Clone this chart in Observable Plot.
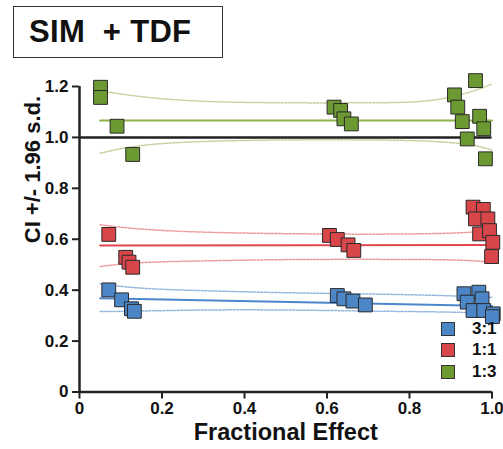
<!DOCTYPE html>
<html>
<head>
<meta charset="utf-8">
<script src="https://cdn.jsdelivr.net/npm/d3@7"></script>
<script src="https://cdn.jsdelivr.net/npm/@observablehq/plot@0.6"></script>
<style>
  html, body { margin: 0; padding: 0; background: #fff; }
  #wrap { position: relative; width: 503px; height: 449px; overflow: hidden; font-family: "Liberation Sans", Arial, sans-serif; }
  #title { position: absolute; left: 13px; top: 6px; width: 193px; height: 50px; border: 1.6px solid #333;
           font-size: 31px; font-weight: bold; line-height: 50px; padding-left: 15px; box-sizing: content-box; white-space: pre; color: #111; letter-spacing: 0.3px; }
  #legend { position: absolute; left: 441px; top: 318px; font-weight: bold; font-size: 17px; color: #111; }
  .lg { display: flex; align-items: center; height: 21.5px; white-space: nowrap; }
  .sw { width: 12px; height: 12px; border: 1px solid #333; margin-right: 17px; }
</style>
</head>
<body>
<div id="wrap">
  <div id="chart"></div>
  <div id="title">SIM  + TDF</div>
  <div id="legend"></div>
</div>
<script>
// ---- data ----
const seriesNames = ["3:1", "1:1", "1:3"];
const seriesColors = ["#4d86c6", "#d9464a", "#6d9932"];
const lineColors = ["#4a87cf", "#e4474d", "#8db24a"];
const bandColors = ["#94b7e0", "#ee9a9c", "#c3d19c"];

const xTicks = [0, 0.2, 0.4, 0.6, 0.8, 1.0];
const yTicks = [0, 0.2, 0.4, 0.6, 0.8, 1.0, 1.2];

// 3:1 (blue)
const blueX = [0.071, 0.102, 0.126, 0.133, 0.625, 0.641, 0.663, 0.693, 0.932, 0.968, 0.940, 0.976, 0.954, 0.980, 1.003, 1.001];
const blueY = [0.401, 0.362, 0.327, 0.317, 0.379, 0.366, 0.357, 0.342, 0.386, 0.392, 0.353, 0.366, 0.320, 0.320, 0.307, 0.296];
// 1:1 (red)
const redX = [0.071, 0.112, 0.120, 0.129, 0.606, 0.625, 0.651, 0.665, 0.954, 0.979, 0.960, 0.990, 0.970, 0.994, 1.002, 0.999];
const redY = [0.619, 0.529, 0.510, 0.490, 0.615, 0.599, 0.578, 0.556, 0.726, 0.717, 0.680, 0.680, 0.621, 0.634, 0.588, 0.532];
// 1:3 (green)
const greenX = [0.051, 0.051, 0.091, 0.129, 0.617, 0.633, 0.641, 0.659, 0.960, 0.909, 0.917, 0.928, 0.970, 0.980, 0.940, 0.984];
const greenY = [1.197, 1.157, 1.044, 0.933, 1.119, 1.106, 1.073, 1.053, 1.223, 1.167, 1.119, 1.062, 1.083, 1.034, 0.994, 0.916];

// fitted lines (ends)
const fitX = [0.05, 1.0];
const blueFit = [0.368, 0.338];
const redFit = [0.575, 0.577];
const greenFit = [1.066, 1.066];

// confidence bands
const bandX = [0.05, 0.15, 0.3, 0.5, 0.7, 0.85, 0.95, 1.0];
const blueUpper = [0.425, 0.408, 0.398, 0.390, 0.385, 0.380, 0.375, 0.372];
const blueLower = [0.316, 0.318, 0.322, 0.322, 0.318, 0.315, 0.312, 0.310];
const redUpper = [0.657, 0.640, 0.628, 0.622, 0.620, 0.622, 0.628, 0.640];
const redLower = [0.493, 0.508, 0.515, 0.520, 0.521, 0.520, 0.516, 0.508];
const greenUpper = [1.184, 1.160, 1.142, 1.136, 1.136, 1.145, 1.180, 1.210];
const greenLower = [0.938, 0.968, 0.984, 0.990, 0.990, 0.985, 0.970, 0.950];

const refValue = [1.0];

// ---- build tables ----
const pts = (xs, ys) => xs.map((x, i) => ({x, y: ys[i]}));
const points = [pts(blueX, blueY), pts(redX, redY), pts(greenX, greenY)];
const fits = [pts(fitX, blueFit), pts(fitX, redFit), pts(fitX, greenFit)];
const uppers = [pts(bandX, blueUpper), pts(bandX, redUpper), pts(bandX, greenUpper)];
const lowers = [pts(bandX, blueLower), pts(bandX, redLower), pts(bandX, greenLower)];

const fmt = d => d === 0 ? "0" : d.toFixed(1);
const font = "'Liberation Sans', Arial, sans-serif";

const marks = [];
for (let i = 0; i < 3; i++) {
  marks.push(Plot.line(uppers[i], {x: "x", y: "y", curve: "natural", stroke: bandColors[i], strokeWidth: 1.5, strokeDasharray: "2,1.5"}));
  marks.push(Plot.line(lowers[i], {x: "x", y: "y", curve: "natural", stroke: bandColors[i], strokeWidth: 1.5, strokeDasharray: "2,1.5"}));
  marks.push(Plot.line(fits[i], {x: "x", y: "y", stroke: lineColors[i], strokeWidth: 2}));
}
marks.push(Plot.ruleY(refValue, {stroke: "#222", strokeWidth: 2.5}));
for (let i = 0; i < 3; i++) {
  marks.push(Plot.dot(points[i], {x: "x", y: "y", symbol: "square", r: 7.8, fill: seriesColors[i], stroke: "#2a2a2a", strokeWidth: 1}));
}

const chart = Plot.plot({
  width: 503,
  height: 449,
  marginLeft: 79,
  marginRight: 11.5,
  marginTop: 86,
  marginBottom: 57.5,
  style: {fontFamily: font, background: "transparent", overflow: "visible"},
  x: {domain: [0, 1]},
  y: {domain: [0, 1.2]},
  marks: [
    ...marks,
    Plot.ruleX([0], {stroke: "#222", strokeWidth: 2.5}),
    Plot.ruleY([0], {stroke: "#222", strokeWidth: 2.5}),
    Plot.axisX({ticks: xTicks, tickFormat: fmt, tickSize: 7, tickPadding: 3, strokeWidth: 2, stroke: "#222",
                fontSize: 17, fontWeight: "bold", fill: "#111", label: null}),
    Plot.axisY({ticks: yTicks, tickFormat: fmt, tickSize: 7, tickPadding: 4, strokeWidth: 2, stroke: "#222",
                fontSize: 17, fontWeight: "bold", fill: "#111", label: null}),
    Plot.text(["Fractional Effect"], {frameAnchor: "bottom", dy: 48, fontSize: 23.5, fontWeight: "bold", fill: "#111", lineAnchor: "bottom"}),
    Plot.text(["CI +/- 1.96 s.d."], {frameAnchor: "left", dx: -40, dy: 4, rotate: -90, fontSize: 22, fontWeight: "bold", fill: "#111", lineAnchor: "bottom"})
  ]
});
document.getElementById("chart").appendChild(chart);

const legend = document.getElementById("legend");
seriesNames.forEach((name, i) => {
  const row = document.createElement("div");
  row.className = "lg";
  const sw = document.createElement("div");
  sw.className = "sw";
  sw.style.background = seriesColors[i];
  row.appendChild(sw);
  const t = document.createElement("span");
  t.textContent = name;
  row.appendChild(t);
  legend.appendChild(row);
});
</script>
</body>
</html>
